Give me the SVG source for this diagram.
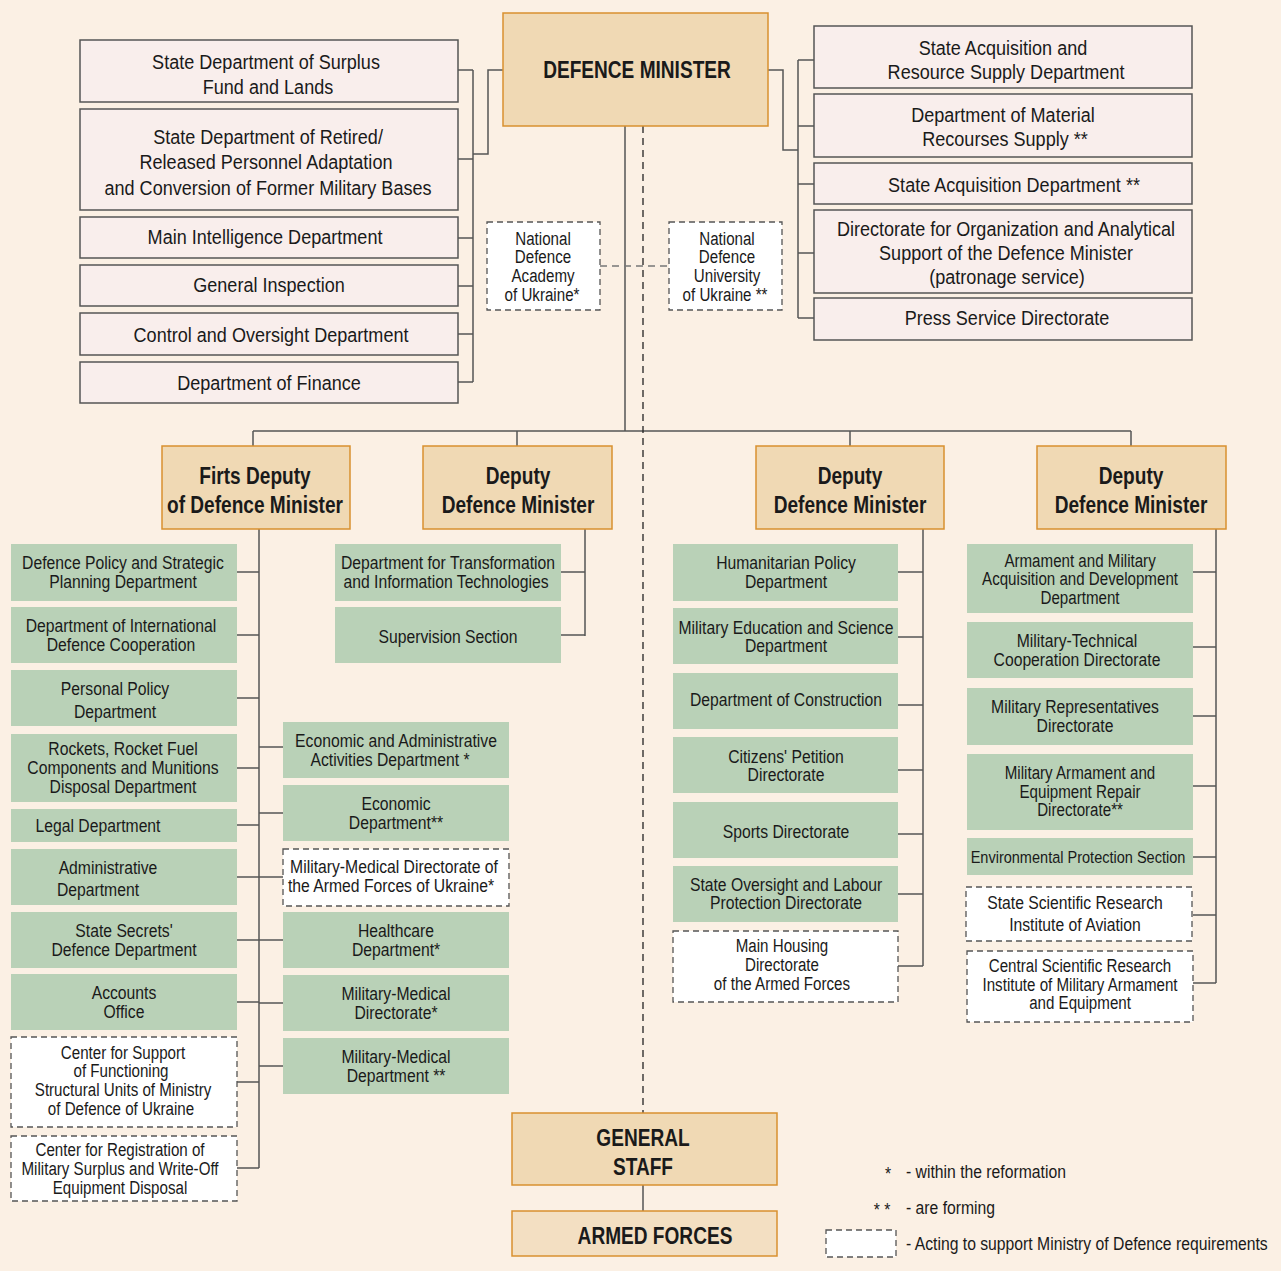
<svg xmlns="http://www.w3.org/2000/svg" width="1281" height="1271" viewBox="0 0 1281 1271">
<style>
text{font-family:"Liberation Sans",Arial,sans-serif;fill:#1a1a1a;text-anchor:middle;transform-box:fill-box;transform-origin:center;transform:scaleX(0.86)}
text.b{transform:scaleX(0.83)}
text.l{text-anchor:start;transform-origin:left center}
.p{fill:#f9eeec;stroke:#555;stroke-width:1.5}
.o{fill:#f0d9b4;stroke:#d9902f;stroke-width:1.5}
.o2{fill:#f3dfc2;stroke:#d9902f;stroke-width:1.5}
.g{fill:#b9d1b7}
.d{fill:#fff;stroke:#555;stroke-width:1.3;stroke-dasharray:6 4}
.s20{font-size:21px}
.s17{font-size:18.3px}
.s16{font-size:17.6px}
.b{font-weight:bold;font-size:23px}
.c path{fill:none;stroke:#555;stroke-width:1.5}
.c .dl{stroke-dasharray:7 5;stroke:#222;stroke-width:1.3}
.c .dg{stroke-dasharray:7 5;stroke:#777;stroke-width:1.5}
</style>
<rect width="1281" height="1271" fill="#fbf0e4"/>
<g class="c">
<path d="M458 70H473M458 159H473M458 238H473M458 286H473M458 334H473M458 382H473M473 70V382M473 154H488V70H503"/>
<path d="M768 70H783V150H798M798 60V318M798 60H814M798 126H814M798 184H814M798 253H814M798 318H814"/>
<path d="M625 126V431M253 431H1131M253 431V446M517 431V446M850 431V446M1131 431V446"/>
<path class="dl" d="M643 126V1113"/>
<path class="dg" d="M600 266H669"/>
<path d="M259 529V1168M237 572H259M237 635H259M237 698H259M237 768H259M237 825H259M237 877H259M237 940H259M237 1002H259M237 1082H259M237 1168H259"/>
<path d="M259 747H283M259 813H283M259 877H283M259 940H283M259 1003H283M259 1066H283"/>
<path d="M585 529V636M561 572H585M561 635H585"/>
<path d="M923 529V966M898 572H923M898 637H923M898 705H923M898 770H923M898 834H923M898 894H923M898 966H923"/>
<path d="M1216 529V983M1193 572H1216M1193 647H1216M1193 716H1216M1193 786H1216M1193 857H1216M1193 915H1216M1193 983H1216"/>
<path d="M643 1185V1211"/>
</g>
<g id="dm"><rect class="o" x="503" y="13" width="265" height="113"/><text class="b" x="637" y="78">DEFENCE MINISTER</text></g>
<g id="l1"><rect class="p" x="80" y="40" width="378" height="62"/><text class="s20" x="266" y="69">State Department of Surplus</text><text class="s20" x="268" y="94">Fund and Lands</text></g>
<g id="l2"><rect class="p" x="80" y="109" width="378" height="101"/><text class="s20" x="268" y="144">State Department of Retired/</text><text class="s20" x="266" y="169">Released Personnel Adaptation</text><text class="s20" x="268" y="195">and Conversion of Former Military Bases</text></g>
<g id="l3"><rect class="p" x="80" y="217" width="378" height="41"/><text class="s20" x="265" y="244">Main Intelligence Department</text></g>
<g id="l4"><rect class="p" x="80" y="265" width="378" height="41"/><text class="s20" x="269" y="292">General Inspection</text></g>
<g id="l5"><rect class="p" x="80" y="313" width="378" height="42"/><text class="s20" x="271" y="342">Control and Oversight Department</text></g>
<g id="l6"><rect class="p" x="80" y="362" width="378" height="41"/><text class="s20" x="269" y="390">Department of Finance</text></g>
<g id="r1"><rect class="p" x="814" y="26" width="378" height="62"/><text class="s20" x="1003" y="55">State Acquisition and</text><text class="s20" x="1006" y="79">Resource Supply Department</text></g>
<g id="r2"><rect class="p" x="814" y="94" width="378" height="63"/><text class="s20" x="1003" y="122">Department of Material</text><text class="s20" x="1005" y="146">Recourses Supply **</text></g>
<g id="r3"><rect class="p" x="814" y="163" width="378" height="41"/><text class="s20" x="1014" y="192">State Acquisition Department **</text></g>
<g id="r4"><rect class="p" x="814" y="210" width="378" height="83"/><text class="s20" x="1006" y="236">Directorate for Organization and Analytical</text><text class="s20" x="1006" y="260">Support of the Defence Minister</text><text class="s20" x="1007" y="284">(patronage service)</text></g>
<g id="r5"><rect class="p" x="814" y="298" width="378" height="42"/><text class="s20" x="1007" y="325">Press Service Directorate</text></g>
<g id="nda"><rect class="d" x="487" y="222" width="113" height="88"/><text class="s16" x="543" y="245">National</text><text class="s16" x="543" y="263">Defence</text><text class="s16" x="543" y="282">Academy</text><text class="s16" x="542" y="301">of Ukraine*</text></g>
<g id="ndu"><rect class="d" x="669" y="222" width="113" height="88"/><text class="s16" x="727" y="245">National</text><text class="s16" x="727" y="263">Defence</text><text class="s16" x="727" y="282">University</text><text class="s16" x="725" y="301">of Ukraine **</text></g>
<g id="fd"><rect class="o" x="162" y="446" width="188" height="83"/><text class="b" x="255" y="484">Firts Deputy</text><text class="b" x="255" y="513">of Defence Minister</text></g>
<g id="d2"><rect class="o" x="423" y="446" width="189" height="83"/><text class="b" x="518" y="484">Deputy</text><text class="b" x="518" y="513">Defence Minister</text></g>
<g id="d3"><rect class="o" x="756" y="446" width="188" height="83"/><text class="b" x="850" y="484">Deputy</text><text class="b" x="850" y="513">Defence Minister</text></g>
<g id="d4"><rect class="o" x="1037" y="446" width="189" height="83"/><text class="b" x="1131" y="484">Deputy</text><text class="b" x="1131" y="513">Defence Minister</text></g>
<g id="f1"><rect class="g" x="11" y="544" width="226" height="57"/><text class="s17" x="123" y="569">Defence Policy and Strategic</text><text class="s17" x="123" y="588">Planning Department</text></g>
<g id="f2"><rect class="g" x="11" y="607" width="226" height="56"/><text class="s17" x="121" y="632">Department of International</text><text class="s17" x="121" y="651">Defence Cooperation</text></g>
<g id="f3"><rect class="g" x="11" y="670" width="226" height="56"/><text class="s17" x="115" y="695">Personal Policy</text><text class="s17" x="115" y="718">Department</text></g>
<g id="f4"><rect class="g" x="11" y="734" width="226" height="68"/><text class="s17" x="123" y="755">Rockets, Rocket Fuel</text><text class="s17" x="123" y="774">Components and Munitions</text><text class="s17" x="123" y="793">Disposal Department</text></g>
<g id="f5"><rect class="g" x="11" y="809" width="226" height="33"/><text class="s17" x="98" y="832">Legal Department</text></g>
<g id="f6"><rect class="g" x="11" y="849" width="226" height="56"/><text class="s17" x="108" y="874">Administrative</text><text class="s17" x="98" y="896">Department</text></g>
<g id="f7"><rect class="g" x="11" y="912" width="226" height="56"/><text class="s17" x="124" y="937">State Secrets'</text><text class="s17" x="124" y="956">Defence Department</text></g>
<g id="f8"><rect class="g" x="11" y="974" width="226" height="56"/><text class="s17" x="124" y="999">Accounts</text><text class="s17" x="124" y="1018">Office</text></g>
<g id="f9"><rect class="d" x="11" y="1037" width="226" height="90"/><text class="s16" x="123" y="1059">Center for Support</text><text class="s16" x="121" y="1077">of Functioning</text><text class="s16" x="123" y="1096">Structural Units of Ministry</text><text class="s16" x="121" y="1115">of Defence of Ukraine</text></g>
<g id="f10"><rect class="d" x="11" y="1136" width="226" height="65"/><text class="s16" x="120" y="1156">Center for Registration of</text><text class="s16" x="120" y="1175">Military Surplus and Write-Off</text><text class="s16" x="120" y="1194">Equipment Disposal</text></g>
<g id="f11"><rect class="g" x="283" y="722" width="226" height="56"/><text class="s17" x="396" y="747">Economic and Administrative</text><text class="s17" x="390" y="766">Activities Department *</text></g>
<g id="f12"><rect class="g" x="283" y="785" width="226" height="56"/><text class="s17" x="396" y="810">Economic</text><text class="s17" x="396" y="829">Department**</text></g>
<g id="f13"><rect class="d" x="283" y="849" width="226" height="57"/><text class="s17" x="394" y="873">Military-Medical Directorate of</text><text class="s17" x="391" y="892">the Armed Forces of Ukraine*</text></g>
<g id="f14"><rect class="g" x="283" y="912" width="226" height="56"/><text class="s17" x="396" y="937">Healthcare</text><text class="s17" x="396" y="956">Department*</text></g>
<g id="f15"><rect class="g" x="283" y="975" width="226" height="56"/><text class="s17" x="396" y="1000">Military-Medical</text><text class="s17" x="396" y="1019">Directorate*</text></g>
<g id="f16"><rect class="g" x="283" y="1038" width="226" height="56"/><text class="s17" x="396" y="1063">Military-Medical</text><text class="s17" x="396" y="1082">Department **</text></g>
<g id="e1"><rect class="g" x="335" y="544" width="226" height="57"/><text class="s17" x="448" y="569">Department for Transformation</text><text class="s17" x="446" y="588">and Information Technologies</text></g>
<g id="e2"><rect class="g" x="335" y="607" width="226" height="56"/><text class="s17" x="448" y="643">Supervision Section</text></g>
<g id="h1"><rect class="g" x="673" y="544" width="225" height="57"/><text class="s17" x="786" y="569">Humanitarian Policy</text><text class="s17" x="786" y="588">Department</text></g>
<g id="h2"><rect class="g" x="673" y="608" width="225" height="56"/><text class="s17" x="786" y="634">Military Education and Science</text><text class="s17" x="786" y="652">Department</text></g>
<g id="h3"><rect class="g" x="673" y="673" width="225" height="56"/><text class="s17" x="786" y="706">Department of Construction</text></g>
<g id="h4"><rect class="g" x="673" y="737" width="225" height="56"/><text class="s17" x="786" y="763">Citizens' Petition</text><text class="s17" x="786" y="781">Directorate</text></g>
<g id="h5"><rect class="g" x="673" y="802" width="225" height="56"/><text class="s17" x="786" y="838">Sports Directorate</text></g>
<g id="h6"><rect class="g" x="673" y="866" width="225" height="56"/><text class="s17" x="786" y="891">State Oversight and Labour</text><text class="s17" x="786" y="909">Protection Directorate</text></g>
<g id="h7"><rect class="d" x="673" y="931" width="225" height="71"/><text class="s16" x="782" y="952">Main Housing</text><text class="s16" x="782" y="971">Directorate</text><text class="s16" x="782" y="990">of the Armed Forces</text></g>
<g id="a1"><rect class="g" x="967" y="544" width="226" height="69"/><text class="s16" x="1080" y="567">Armament and Military</text><text class="s16" x="1080" y="585">Acquisition and Development</text><text class="s16" x="1080" y="604">Department</text></g>
<g id="a2"><rect class="g" x="967" y="622" width="226" height="56"/><text class="s17" x="1077" y="647">Military-Technical</text><text class="s17" x="1077" y="666">Cooperation Directorate</text></g>
<g id="a3"><rect class="g" x="967" y="688" width="226" height="57"/><text class="s17" x="1075" y="713">Military Representatives</text><text class="s17" x="1075" y="732">Directorate</text></g>
<g id="a4"><rect class="g" x="967" y="754" width="226" height="76"/><text class="s16" x="1080" y="779">Military Armament and</text><text class="s16" x="1080" y="798">Equipment Repair</text><text class="s16" x="1080" y="816">Directorate**</text></g>
<g id="a5"><rect class="g" x="967" y="838" width="226" height="37"/><text x="1078" y="863" style="font-size:16.9px">Environmental Protection Section</text></g>
<g id="a6"><rect class="d" x="966" y="887" width="226" height="54"/><text class="s17" x="1075" y="909">State Scientific Research</text><text class="s17" x="1075" y="931">Institute of Aviation</text></g>
<g id="a7"><rect class="d" x="967" y="951" width="226" height="71"/><text class="s16" x="1080" y="972">Central Scientific Research</text><text class="s16" x="1080" y="991">Institute of Military Armament</text><text class="s16" x="1080" y="1009">and Equipment</text></g>
<g id="gs"><rect class="o" x="512" y="1113" width="265" height="72"/><text class="b" x="643" y="1146">GENERAL</text><text class="b" x="643" y="1175">STAFF</text></g>
<g id="af"><rect class="o2" x="512" y="1211" width="265" height="45"/><text class="b" x="655" y="1244">ARMED FORCES</text></g>
<g id="legend">
<text class="s17" x="888" y="1180">*</text><text class="s17 l" x="906" y="1178">- within the reformation</text>
<text class="s17" x="882" y="1216">* *</text><text class="s17 l" x="906" y="1214">- are forming</text>
<rect class="d" x="826" y="1230" width="70" height="27"/><text class="s17 l" x="906" y="1250">- Acting to support Ministry of Defence requirements</text>
</g>
</svg>
